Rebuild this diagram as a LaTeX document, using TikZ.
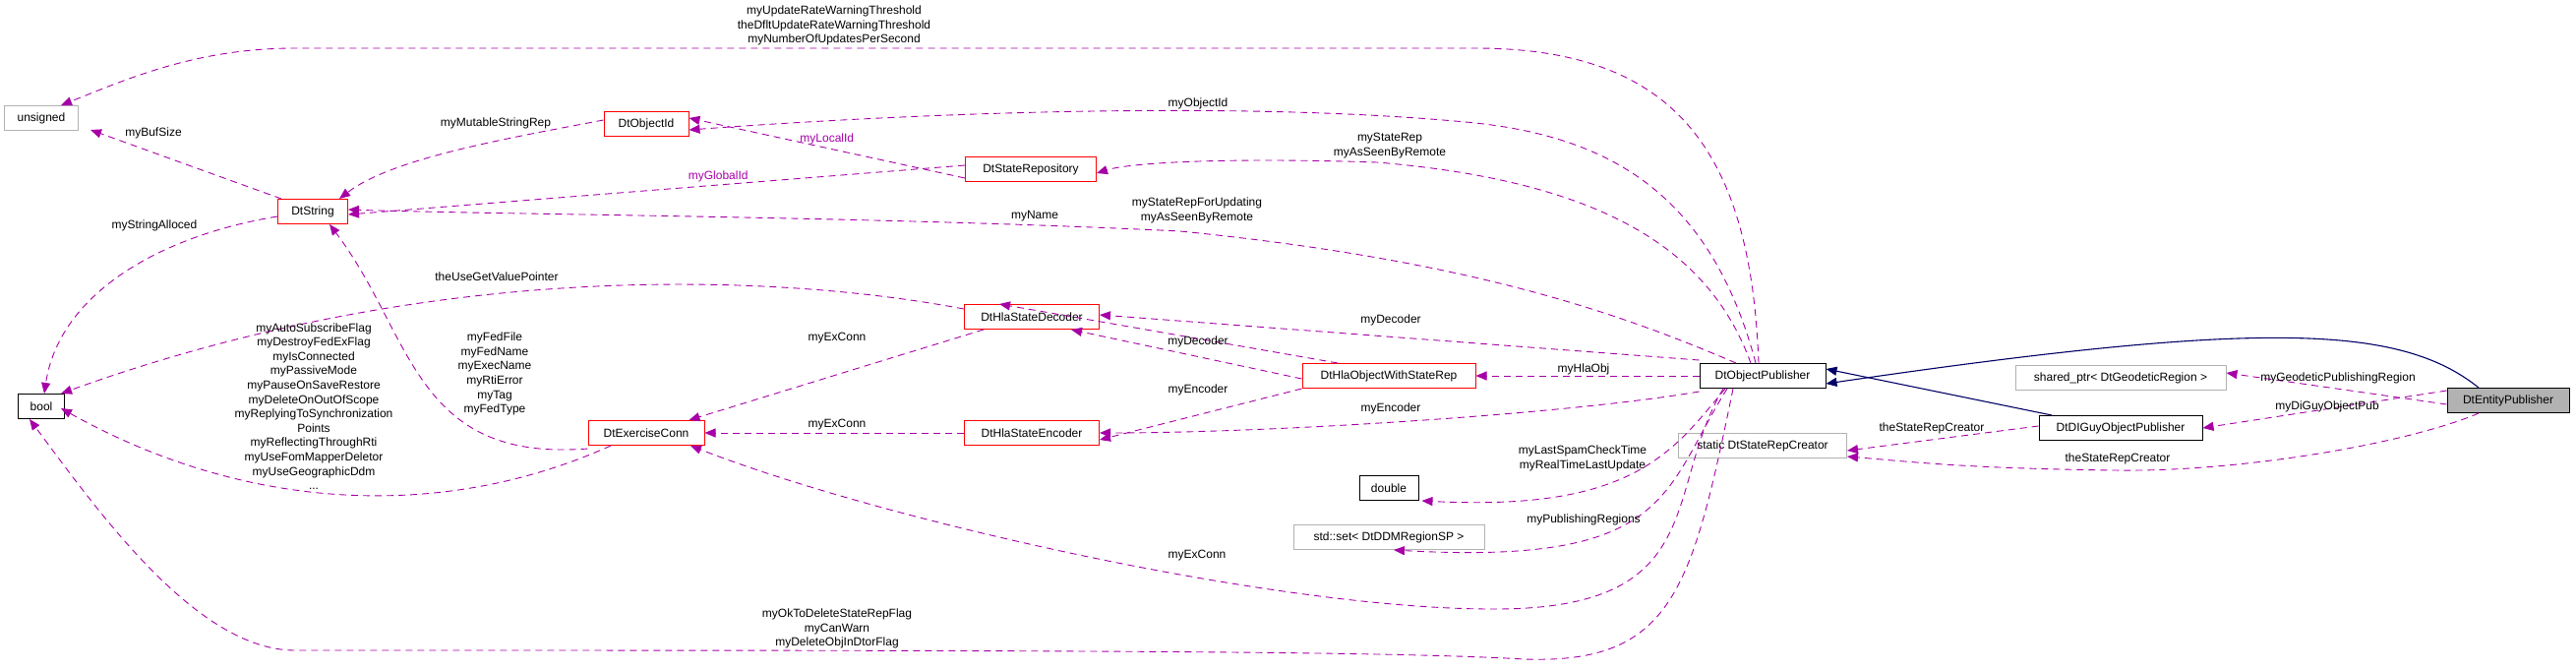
\documentclass[tikz,border=0pt]{standalone}
\usepackage{fontspec}
\setmainfont{Liberation Sans}
\usetikzlibrary{arrows.meta}

\begin{document}
\begin{tikzpicture}[%
    x=1pt, y=-1pt,                      % pixel grid, y going down
    font=\fontsize{12}{14.6}\selectfont,
    >={Triangle[length=11pt,width=9pt]},
    ]
% -------------------------------------------------
% box and connector styles
\tikzset{
  base/.style={draw, rectangle, align=center, minimum height=25pt, inner sep=2pt, line width=1pt},
  cls/.style={base, draw=black},
  trunc/.style={base, draw=red},
  ext/.style={base, draw=gray!60},
  self/.style={base, draw=black, fill=gray!60},
  use/.style={->, draw=violet!70!magenta, color=violet!70!magenta, dashed, dash pattern=on 7pt off 5pt, line width=0.9pt},
  inh/.style={->, draw=blue!40!black, color=blue!40!black, line width=1.1pt},
  lbl/.style={align=center, inner sep=1pt}
}
\useasboundingbox (0,0) rectangle (2619,681);
% -------------------------------------------------
% nodes
\node [ext, minimum width=75pt] (unsigned) at (42,120) {unsigned};
\node [cls, minimum width=47pt] (bool) at (42,413) {bool};
\node [trunc, minimum width=71pt] (str) at (318,215) {DtString};
\node [trunc, minimum width=86pt] (oid) at (657,126) {DtObjectId};
\node [trunc, minimum width=118pt] (exc) at (657,440) {DtExerciseConn};
\node [trunc, minimum width=133pt] (srep) at (1048,172) {DtStateRepository};
\node [trunc, minimum width=137pt] (dec) at (1049,322) {DtHlaStateDecoder};
\node [trunc, minimum width=137pt] (enc) at (1049,440) {DtHlaStateEncoder};
\node [trunc, minimum width=176pt] (hla) at (1412,382) {DtHlaObjectWithStateRep};
\node [cls, minimum width=128pt] (opub) at (1792,382) {DtObjectPublisher};
\node [cls, minimum width=60pt] (dbl) at (1412,496) {double};
\node [ext, minimum width=194pt] (rset) at (1412,546) {std::set< DtDDMRegionSP >};
\node [ext, minimum width=171pt] (creator) at (1792,453) {static DtStateRepCreator};
\node [ext, minimum width=214pt] (geo) at (2156,384) {shared\_ptr< DtGeodeticRegion >};
\node [cls, minimum width=166pt] (diguy) at (2156,435) {DtDIGuyObjectPublisher};
\node [self, minimum width=124pt] (ent) at (2550,407) {DtEntityPublisher};
% -------------------------------------------------
% connectors
\draw [use] ([xshift=-4pt]opub.north) .. controls (1780,150) and (1700,49) .. (1500,49)
  -- (300,49) .. controls (200,49) and (130,80) .. ([xshift=20pt]unsigned.north);
\draw [use] ([xshift=-7pt]opub.north) .. controls (1740,200) and (1640,140) .. (1500,125)
  .. controls (1300,105) and (1000,110) .. ([yshift=-6pt]oid.east);
\draw [use] ([xshift=-12pt]opub.north) .. controls (1740,260) and (1640,185) .. (1400,165)
  .. controls (1250,160) and (1150,165) .. ([yshift=-4pt]srep.east);
\draw [use] ([xshift=-27pt]opub.north) .. controls (1650,320) and (1500,265) .. (1200,235)
  .. controls (900,220) and (500,218) .. ([yshift=2pt]str.east);
\draw [use] ([yshift=-9pt]srep.west) -- node [lbl, above=2pt] (l5) {myLocalId} ([yshift=6pt]oid.east);
\draw [use] ([yshift=4pt]srep.west) -- node [lbl, above=2pt, pos=0.4] (l6) {myGlobalId} ([yshift=-3pt]str.east);
\draw [use] ([yshift=4pt]oid.west) .. controls (520,140) and (400,160) .. ([xshift=27pt]str.north);
\draw [use] ([xshift=-32pt]str.north) -- ([xshift=12pt,yshift=1pt]unsigned.south east);
\draw [use] ([yshift=-5pt]str.west) .. controls (160,240) and (60,300) .. ([xshift=3pt]bool.north);
\draw [use] ([yshift=-5pt]dec.north west) .. controls (800,280) and (450,260) .. ([xshift=-4pt]bool.north east);
\draw [use] ([xshift=20pt]dec.south west) -- ([xshift=-16pt]exc.north east);
\draw [use] (enc.west) -- (exc.east);
\draw [use] ([xshift=-36pt]exc.south) .. controls (450,530) and (250,520) .. ([xshift=-4pt,yshift=-2pt]bool.east);
\draw [use] ([yshift=-3pt]exc.south west) .. controls (420,470) and (420,340) .. ([xshift=17pt]str.south);
\draw [use] ([xshift=-30pt]opub.south) .. controls (1720,600) and (1700,675) .. (1550,670)
  .. controls (1400,661) and (1000,661) .. (300,661) .. controls (200,661) and (100,520) .. ([xshift=12pt]bool.south west);
\draw [use] ([xshift=-40pt]opub.south) .. controls (1690,500) and (1740,620) .. (1517,619)
  .. controls (1300,619) and (900,530) .. ([xshift=45pt]exc.south);
\draw [use] ([xshift=-38pt]opub.south) .. controls (1700,460) and (1660,520) .. ([xshift=3pt]dbl.south east);
\draw [use] ([xshift=-36pt]opub.south) .. controls (1690,500) and (1700,575) .. ([xshift=5pt]rset.south);
\draw [use] (opub.west) -- (hla.east);
\draw [use] ([yshift=3pt]opub.north west) -- ([yshift=2pt]dec.east);
\draw [use] ([yshift=-3pt]opub.south west) .. controls (1600,420) and (1300,440) .. (enc.east);
\draw [use] ([xshift=-52pt]hla.north) -- ([xshift=35pt]dec.north -| srep.south west);
\draw [use] ([yshift=-3pt]hla.west) -- ([xshift=40pt]dec.south);
\draw [use] (hla.south west) -- ([yshift=-7pt]enc.east);
\draw [inh] ([xshift=-30pt]ent.north) .. controls (2440,330) and (2300,325) .. ([yshift=-8pt]opub.east);
\draw [inh] ([xshift=-70pt]diguy.north) -- ([yshift=7pt]opub.east);
\draw [use] ([yshift=-4pt]ent.west) -- ([yshift=5pt]geo.east);
\draw [use] ([yshift=10pt]ent.west) -- (diguy.east);
\draw [use] ([yshift=2pt]diguy.west) -- ([yshift=-5pt]creator.east);
\draw [use] ([xshift=-30pt]ent.south) .. controls (2450,450) and (2280,480) .. (2150,478)
  .. controls (2000,476) and (1950,470) .. ([yshift=-1pt]creator.east |- 0,463);
% -------------------------------------------------
% edge labels
\node [lbl] (l1) at (848,26) {myUpdateRateWarningThreshold\\theDfltUpdateRateWarningThreshold\\myNumberOfUpdatesPerSecond};
\node [lbl] (l2) at (1218,105) {myObjectId};
\node [lbl] (l3) at (1413,148) {myStateRep\\myAsSeenByRemote};
\node [lbl] (l4) at (1052,220) {myName};
\node [lbl] (l7) at (504,125) {myMutableStringRep};
\node [lbl] (l8) at (156,135) {myBufSize};
\node [lbl] (l9) at (157,229) {myStringAlloced};
\node [lbl] (l10) at (505,281) {theUseGetValuePointer};
\node [lbl] (l11) at (851,344) {myExConn};
\node [lbl] (l12) at (851,432) {myExConn};
\node [lbl] (l13) at (319,413) {myAutoSubscribeFlag\\myDestroyFedExFlag\\myIsConnected\\myPassiveMode\\myPauseOnSaveRestore\\myDeleteOnOutOfScope\\myReplyingToSynchronization\\Points\\myReflectingThroughRti\\myUseFomMapperDeletor\\myUseGeographicDdm\\...};
\node [lbl] (l14) at (503,380) {myFedFile\\myFedName\\myExecName\\myRtiError\\myTag\\myFedType};
\node [lbl] (l15) at (851,639) {myOkToDeleteStateRepFlag\\myCanWarn\\myDeleteObjInDtorFlag};
\node [lbl] (l16) at (1217,565) {myExConn};
\node [lbl] (l17) at (1609,466) {myLastSpamCheckTime\\myRealTimeLastUpdate};
\node [lbl] (l18) at (1610,528) {myPublishingRegions};
\node [lbl] (l19) at (1610,375) {myHlaObj};
\node [lbl] (l20) at (1414,325) {myDecoder};
\node [lbl] (l21) at (1218,347) {myDecoder};
\node [lbl] (l22) at (1218,396) {myEncoder};
\node [lbl] (l23) at (1414,415) {myEncoder};
\node [lbl] (l24) at (1217,214) {myStateRepForUpdating\\myAsSeenByRemote};
\node [lbl] (l25) at (2377,384) {myGeodeticPublishingRegion};
\node [lbl] (l26) at (2366,413) {myDiGuyObjectPub};
\node [lbl] (l27) at (1964,435) {theStateRepCreator};
\node [lbl] (l28) at (2153,466) {theStateRepCreator};
% -------------------------------------------------
\end{tikzpicture}
\end{document}
